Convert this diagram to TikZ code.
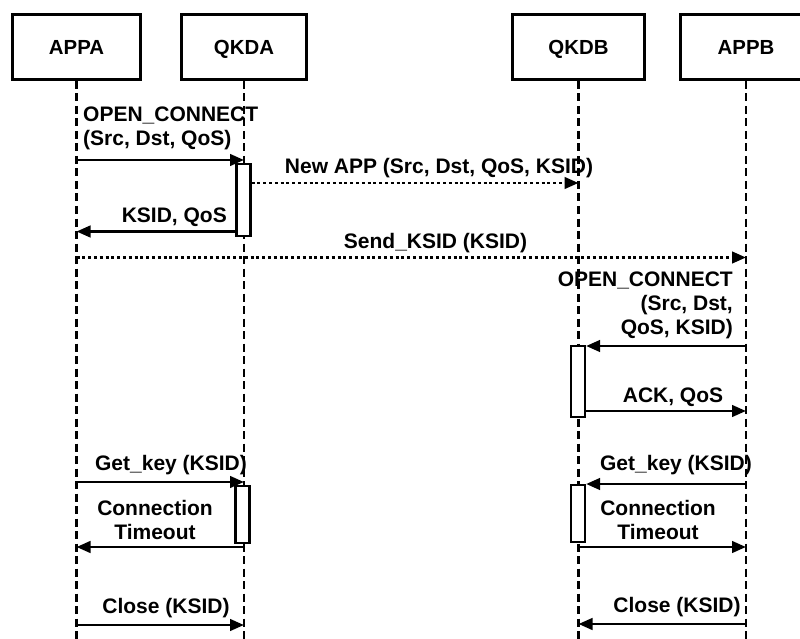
\documentclass[tikz,border=0pt]{standalone}
\usepackage{fontspec}
\setmainfont{Liberation Sans}
\usetikzlibrary{arrows.meta}
\begin{document}
\begin{tikzpicture}[x=1pt,y=-1pt,
  actor/.style={draw, line width=3pt, inner sep=0pt, minimum height=65pt,
    text height=14.6pt, text depth=0pt,
    font=\fontsize{20.4}{24}\selectfont\bfseries},
  life/.style={line width=2.8pt, dash pattern=on 8pt off 4.5pt},
  act/.style={draw, fill=white, line width=2.2pt, inner sep=0pt, minimum width=14pt},
  msg/.style={line width=2.8pt, -{Triangle[length=14pt,width=11.5pt]}},
  async/.style={msg, dash pattern=on 3pt off 2.8pt},
  lbl/.style={inner sep=0pt, font=\fontsize{21}{24}\selectfont\bfseries}]

% page and background
\fill[white] (0,0) rectangle (800,639);
\useasboundingbox (0,0) rectangle (800,639);

% participants
\node[actor, minimum width=127.5pt] (appa) at (76.5,47) {APPA};
\node[actor, minimum width=124.5pt] (qkda) at (244,47) {QKDA};
\node[actor, minimum width=132pt]   (qkdb) at (578.5,47) {QKDB};
\node[actor, minimum width=132pt]   (appb) at (746,47) {APPB};

% lifeline ends
\coordinate (appa-end) at (appa.south |- 0,645);
\coordinate (qkda-end) at (qkda.south |- 0,645);
\coordinate (qkdb-end) at (qkdb.south |- 0,645);
\coordinate (appb-end) at (appb.south |- 0,645);

\draw[life] (appa.south) -- (appa-end);
\draw[life] (qkda.south) -- (qkda-end);
\draw[life] (qkdb.south) -- (qkdb-end);
\draw[life] (appb.south) -- (appb-end);

% activation bars
\node[act, minimum height=72pt] (actA1) at (243.5,200) {};
\node[act, minimum height=71pt] (actB1) at (578,381.5) {};
\node[act, minimum height=57pt] (actA2) at (242.5,514.5) {};
\node[act, minimum height=57pt] (actB2) at (578,513.5) {};

% message end points
\coordinate (m1s)  at (appa.south |- 0,160);
\coordinate (m1e)  at (qkda.south |- 0,160);
\coordinate (m2s)  at (actA1.east |- 0,183);
\coordinate (m2e)  at (qkdb.south |- 0,183);
\coordinate (m3s)  at (actA1.west |- 0,231.5);
\coordinate (m3e)  at (appa.south |- 0,231.5);
\coordinate (m4s)  at (appa.south |- 0,257.5);
\coordinate (m4e)  at (appb.south |- 0,257.5);
\coordinate (m5s)  at (appb.south |- 0,346);
\coordinate (m5e)  at (actB1.east |- 0,346);
\coordinate (m6s)  at (actB1.east |- 0,411);
\coordinate (m6e)  at (appb.south |- 0,411);
\coordinate (m7s)  at (appa.south |- 0,482);
\coordinate (m7e)  at (qkda.south |- 0,482);
\coordinate (m8s)  at (qkda.south |- 0,547);
\coordinate (m8e)  at (appa.south |- 0,547);
\coordinate (m9s)  at (appa.south |- 0,625);
\coordinate (m9e)  at (qkda.south |- 0,625);
\coordinate (m10s) at (appb.south |- 0,484);
\coordinate (m10e) at (actB2.east |- 0,484);
\coordinate (m11s) at (qkdb.south |- 0,547);
\coordinate (m11e) at (appb.south |- 0,547);
\coordinate (m12s) at (appb.south |- 0,624);
\coordinate (m12e) at (qkdb.south |- 0,624);

% messages
\draw[msg]   (m1s) -- (m1e);
\draw[async] (m2s) -- (m2e);
\draw[msg]   (m3s) -- (m3e);
\draw[async] (m4s) -- (m4e);
\draw[msg]   (m5s) -- (m5e);
\draw[msg]   (m6s) -- (m6e);
\draw[msg]   (m7s) -- (m7e);
\draw[msg]   (m8s) -- (m8e);
\draw[msg]   (m9s) -- (m9e);
\draw[msg]   (m10s) -- (m10e);
\draw[msg]   (m11s) -- (m11e);
\draw[msg]   (m12s) -- (m12e);

% message labels
\node[lbl, anchor=north west, align=left]  (l1)  at (83,107)    {OPEN\_CONNECT\\(Src, Dst, QoS)};
\node[lbl, anchor=north]                   (l2)  at (439,158.5) {New APP (Src, Dst, QoS, KSID)};
\node[lbl, anchor=north east]              (l3)  at (227,208)   {KSID, QoS};
\node[lbl, anchor=north]                   (l4)  at (435.5,233.5) {Send\_KSID (KSID)};
\node[lbl, anchor=north east, align=right] (l5)  at (733,272)   {OPEN\_CONNECT\\(Src, Dst,\\QoS, KSID)};
\node[lbl, anchor=north]                   (l6)  at (673,388)   {ACK, QoS};
\node[lbl, anchor=north]                   (l7)  at (171,455)   {Get\_key (KSID)};
\node[lbl, anchor=north, align=center]     (l8)  at (155,500)   {Connection\\Timeout};
\node[lbl, anchor=north]                   (l9)  at (166,598)   {Close (KSID)};
\node[lbl, anchor=north]                   (l10) at (676,455)   {Get\_key (KSID)};
\node[lbl, anchor=north, align=center]     (l11) at (658,500)   {Connection\\Timeout};
\node[lbl, anchor=north]                   (l12) at (677,597)   {Close (KSID)};
\end{tikzpicture}
\end{document}
